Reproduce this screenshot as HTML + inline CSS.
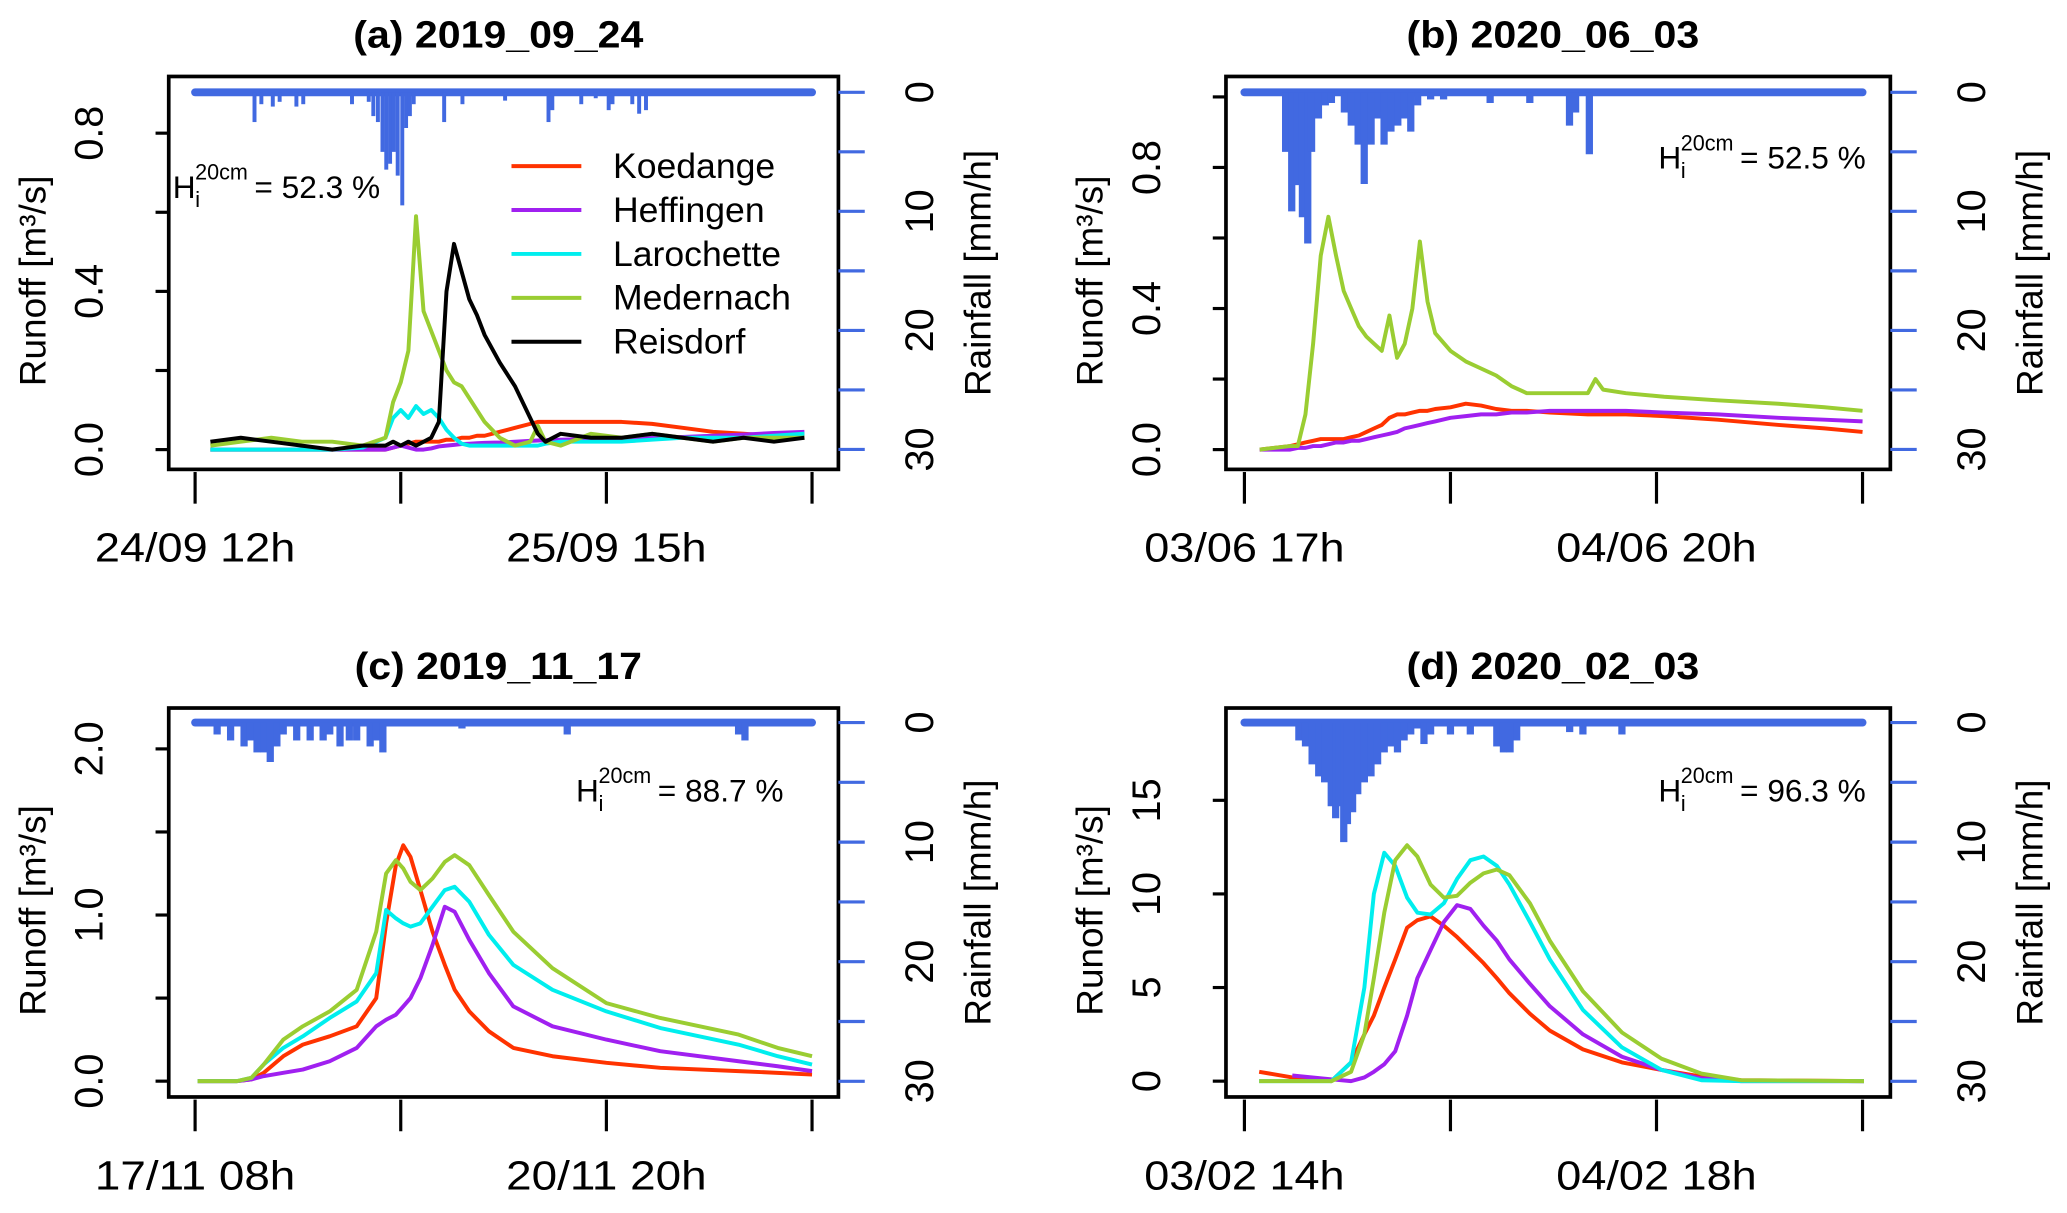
<!DOCTYPE html>
<html><head><meta charset="utf-8"><style>
html,body{margin:0;padding:0;background:#fff;}
svg{display:block;font-family:"Liberation Sans",sans-serif;}
</style></head><body>
<svg id="fig" width="2067" height="1213" viewBox="0 0 1568 920" preserveAspectRatio="none" xmlns="http://www.w3.org/2000/svg"></svg>
<script>
// ---------- DATA ----------
const seriesNames = ["Koedange","Heffingen","Larochette","Medernach","Reisdorf"];
const seriesColors = ["#ff3300","#a020f0","#00eeee","#9acd32","#000000"];

// Panel (a) 2019_09_24 — hours from 24/09 12h
const tA = [2,6,10,14,18,22,25,26,27,28,29,30,31,32,33,34,35,36,37,38,40,42,44,45,46,48,52,56,60,64,68,72,76,80];
const aKoedange = [0,0,0,0,0,0,0,0.005,0.01,0.015,0.02,0.02,0.02,0.02,0.025,0.025,0.03,0.03,0.035,0.035,0.045,0.055,0.065,0.07,0.07,0.07,0.07,0.07,0.065,0.055,0.045,0.04,0.035,0.035];
const aHeffingen = [0,0,0,0,0,0,0,0.005,0.01,0.005,0,0,0.003,0.008,0.01,0.012,0.014,0.015,0.016,0.017,0.018,0.02,0.022,0.023,0.024,0.025,0.027,0.028,0.03,0.032,0.035,0.038,0.042,0.045];
const aLarochette = [0,0,0,0,0,0.005,0.03,0.08,0.1,0.08,0.11,0.09,0.1,0.08,0.05,0.03,0.015,0.01,0.01,0.01,0.01,0.01,0.01,0.01,0.015,0.02,0.02,0.02,0.025,0.03,0.03,0.03,0.035,0.04];
const aMedernach = [0.01,0.02,0.03,0.02,0.02,0.01,0.03,0.12,0.17,0.25,0.59,0.35,0.3,0.25,0.2,0.17,0.16,0.13,0.1,0.07,0.03,0.01,0.02,0.06,0.02,0.01,0.04,0.03,0.04,0.03,0.02,0.03,0.03,0.03];
const aReisdorf = [0.02,0.03,0.02,0.01,0,0.01,0.01,0.02,0.01,0.02,0.01,0.02,0.03,0.07,0.4,0.52,0.45,0.38,0.34,0.29,0.22,0.16,0.08,0.04,0.02,0.04,0.03,0.03,0.04,0.03,0.02,0.03,0.02,0.03];
const aRainT = [7.8,8.7,10.2,11.1,13.3,14.2,20.6,22.8,23.4,24,24.6,25.1,25.6,26.1,26.6,27.2,27.7,28.2,28.7,32.7,35.1,40.7,46.4,46.9,50.7,52.6,54.3,54.8,57.4,58.3,59.2];
const aRainMm = [2.5,1,1.2,0.8,1.2,1,1,0.8,2,2.5,5,6.5,6,5,7,9.5,3,2,1,2.5,1,0.7,2.5,1.5,1,0.5,1.5,1,1,1.8,1.5];
const aTicks = ["24/09 12h","25/09 15h"];

// Panel (b) 2020_06_03 — hours from 03/06 17h
const tB = [2,6,7,8,9,10,11,12,13,14,15,16,17,18,19,20,21,22,23,24,25,27,29,31,33,35,37,40,45,46,47,50,55,62,70,76,81];
const bKoedange = [0,0.01,0.015,0.02,0.025,0.03,0.03,0.03,0.03,0.035,0.04,0.05,0.06,0.07,0.09,0.1,0.1,0.105,0.11,0.11,0.115,0.12,0.13,0.125,0.115,0.11,0.11,0.105,0.1,0.1,0.1,0.1,0.095,0.085,0.07,0.06,0.05];
const bHeffingen = [0,0,0.005,0.005,0.01,0.01,0.015,0.02,0.02,0.025,0.025,0.03,0.035,0.04,0.045,0.05,0.06,0.065,0.07,0.075,0.08,0.09,0.095,0.1,0.1,0.105,0.105,0.11,0.11,0.11,0.11,0.11,0.105,0.1,0.09,0.085,0.08];
const bMedernach = [0,0.01,0.01,0.1,0.3,0.55,0.66,0.55,0.45,0.4,0.35,0.32,0.3,0.28,0.38,0.26,0.3,0.4,0.59,0.42,0.33,0.28,0.25,0.23,0.21,0.18,0.16,0.16,0.16,0.2,0.17,0.16,0.15,0.14,0.13,0.12,0.11];
const bRainT = [5.4,6.2,6.9,7.6,8.3,8.8,9.7,10.6,11.4,13.1,14,14.9,15.7,16.6,17.5,18.3,19.2,20.1,20.9,21.8,22.7,24.4,26.1,32.2,37.4,42.6,43.4,45.2];
const bRainMm = [5,10,7.8,10.5,12.7,5,2.2,1.1,0.9,1.7,2.8,4.4,7.7,4.4,2.2,4.4,3.3,2.8,2.2,3.3,1.1,0.6,0.6,0.9,0.9,2.8,1.7,5.2];
const bTicks = ["03/06 17h","04/06 20h"];

// Panel (c) 2019_11_17 — hours from 17/11 08h
const tC = [1,17,23,28,36,44,55,66,74,78,82,85,88,92,97,102,106,112,120,130,146,168,190,222,238,252];
const cKoedange = [0,0,0.01,0.05,0.15,0.22,0.27,0.33,0.5,0.95,1.3,1.42,1.35,1.15,0.9,0.7,0.55,0.42,0.3,0.2,0.15,0.11,0.08,0.06,0.05,0.04];
const cHeffingen = [0,0,0.01,0.03,0.05,0.07,0.12,0.2,0.33,0.37,0.4,0.45,0.5,0.62,0.82,1.05,1.02,0.85,0.65,0.45,0.33,0.25,0.18,0.12,0.09,0.06];
const cLarochette = [0,0,0.02,0.1,0.2,0.27,0.38,0.48,0.65,1.03,0.98,0.95,0.93,0.95,1.05,1.15,1.17,1.08,0.88,0.7,0.55,0.42,0.32,0.22,0.15,0.1];
const cMedernach = [0,0,0.02,0.1,0.25,0.33,0.42,0.55,0.9,1.25,1.33,1.28,1.2,1.15,1.22,1.32,1.36,1.3,1.12,0.9,0.68,0.47,0.38,0.28,0.2,0.15];
const cRainT = [9,14.5,20,22.6,25.3,28,30.7,33.4,36,41.5,47,52.3,55,59.2,63,66,71.5,74,76.7,109,152,222,224.6];
const cRainMm = [1,1.5,2,1.5,2.5,2.5,3.3,2,1,1.5,1.5,1.5,1,2,1.5,1.5,2,1.5,2.5,0.5,1,1,1.5];
const cTicks = ["17/11 08h","20/11 20h"];

// Panel (d) 2020_02_03 — hours from 03/02 14h
const tD = [2,6.5,11.8,14.5,16.3,17.6,19,20.5,22.1,23.5,25.3,27.1,28.9,30.7,32.5,34.3,36,38.8,41.5,46,51.3,56.7,62.1,67.5,84.2];
const dKoedange = [0.5,0.2,0,1,2.5,3.5,5,6.5,8.2,8.6,8.8,8.3,7.7,7,6.3,5.5,4.7,3.6,2.7,1.7,1,0.6,0.25,0.05,0];
const dHeffingen = [null,0.3,0.1,0,0.2,0.5,0.9,1.6,3.5,5.5,7,8.5,9.4,9.2,8.3,7.5,6.5,5.2,4,2.5,1.3,0.6,0.15,0,0];
const dLarochette = [0,0,0,1,5,10,12.2,11.5,9.8,9,8.9,9.5,10.8,11.8,12,11.5,10.5,8.5,6.5,3.8,1.8,0.6,0.05,0,0];
const dMedernach = [0,0,0,0.5,2.5,5.5,9,11.8,12.6,12,10.5,9.8,9.9,10.6,11.1,11.3,11,9.5,7.5,4.8,2.6,1.2,0.4,0.05,0];
const dRainT = [7.4,8.3,9.2,10.1,10.9,11.8,12.4,12.9,13.5,14,14.7,15.4,16.3,17.2,18.1,19,19.9,20.8,21.7,22.6,23.5,24.4,25.3,28,30.7,34.3,35.2,36.1,37,44.2,46,51.3];
const dRainMm = [1.5,2,3.5,4.5,5,7,8,7,10,8.5,7.5,6,5,4.5,3.5,2.5,2,2.5,1.5,1,0.5,1.8,1,1,1,2,2.5,2.5,1.5,0.8,1,1];
const dTicks = ["03/02 14h","04/02 18h"];

const yTicksA = [0,0.2,0.4,0.6,0.8], yLabA = ["0.0","0.4","0.8"];
const yTicksB = [0,0.2,0.4,0.6,0.8,1.0], yLabB = ["0.0","0.4","0.8"];
const yTicksC = [0,0.5,1,1.5,2], yLabC = ["0.0","1.0","2.0"];
const yTicksD = [0,5,10,15], yLabD = ["0","5","10","15"];
const rainTicks = [0,5,10,15,20,25,30], rainLabels = ["0","10","20","30"];

// ---------- DRAWING ----------
const NS = "http://www.w3.org/2000/svg";
const svg = document.getElementById("fig");
function mk(tag, attrs, parent){ const e=document.createElementNS(NS,tag); for(const k in attrs) e.setAttribute(k,attrs[k]); (parent||svg).appendChild(e); return e; }
function txt(x,y,s,size,opts,parent){ opts=opts||{}; const a={x:x,y:y,"font-size":size,"text-anchor":opts.anchor||"middle",fill:opts.fill||"#000"}; if(opts.weight)a["font-weight"]=opts.weight; if(opts.rot)a.transform="rotate(-90 "+x+" "+y+")"; if(opts.len){a.textLength=opts.len;a.lengthAdjust="spacingAndGlyphs";} if(opts.base)a["dominant-baseline"]=opts.base; const e=mk("text",a,parent); e.textContent=s; return e; }

function panel(cfg){
  const g = mk("g",{});
  
  
  const L=cfg.left, R=cfg.right, T=cfg.top, B=cfg.bottom;
  const x0=cfg.x0, x1=x0+3*cfg.tickStep*cfg.pxh;
  const xs = t => x0 + t*cfg.pxh;
  const ys = v => cfg.y0 - v*cfg.pyu;
  const rs = mm => cfg.r0 + mm*cfg.pmm;
  const ti = txt((L+R)/2-4, cfg.top-22, cfg.title, 29, {weight:"bold", len:cfg.titleLen}, g);
  
  
  const rb = mk("line",{x1:x0,x2:x1,y1:cfg.r0,y2:cfg.r0,stroke:"#4169e1","stroke-width":6,"stroke-linecap":"round"},g);
  
  
  cfg.rainT.forEach((t,i)=>{
    const b = mk("line",{x1:xs(t),x2:xs(t),y1:cfg.r0,y2:rs(cfg.rainMm[i]),stroke:"#4169e1","stroke-width":cfg.barW},g);
    
    
  });
  cfg.series.forEach(s=>{
    let d="", pen=false;
    s.vals.forEach((v,i)=>{ if(v===null){pen=false;return;} d += (pen?"L":"M")+xs(cfg.t[i]).toFixed(1)+","+ys(v).toFixed(1); pen=true; });
    const p = mk("path",{d:d,fill:"none",stroke:seriesColors[s.idx],"stroke-width":3,"stroke-linejoin":"round"},g);
    
    
  });
  const bx = mk("rect",{x:L,y:T,width:R-L,height:B-T,fill:"none",stroke:"#000","stroke-width":2.8},g);
  
  
  cfg.yTicks.forEach(v=>{
    const tk = mk("line",{x1:L-10,x2:L,y1:ys(v),y2:ys(v),stroke:"#000","stroke-width":2.4},g);
    
    
  });
  cfg.yLab.forEach(s=>{
    const lb = txt(L-60, ys(parseFloat(s)), s, 30, {rot:true, base:"central"}, g);
    
    
  });
  const yt = txt(L-103, (T+B)/2+6, "Runoff [m³/s]", 28, {rot:true, base:"central"}, g);
  
  
  rainTicks.forEach(v=>{
    const tk = mk("line",{x1:R,x2:R+20,y1:rs(v),y2:rs(v),stroke:"#4169e1","stroke-width":2.4},g);
    
    
  });
  rainLabels.forEach(s=>{
    const lb = txt(R+62, rs(parseFloat(s)), s, 30, {rot:true, base:"central"}, g);
    
    
  });
  const rt = txt(R+106, (T+B)/2, "Rainfall [mm/h]", 28, {rot:true, base:"central"}, g);
  
  
  for(let k=0;k<4;k++){
    const xx = x0 + k*cfg.tickStep*cfg.pxh;
    const tk = mk("line",{x1:xx,x2:xx,y1:B+2,y2:B+26,stroke:"#000","stroke-width":2.4},g);
    
    
  }
  cfg.xLab.forEach((s,k)=>{
    const lb = txt(x0 + k*2*cfg.tickStep*cfg.pxh, B+70, s, 31, {len:152}, g);
    
    
  });
  const hx=cfg.hx, hy=cfg.hy;
  const h1 = txt(hx, hy, "H", 24, {anchor:"start"}, g);
  
  
  txt(hx+17, hy-14, "20cm", 17, {anchor:"start", len:40}, g);
  txt(hx+17, hy+7, "i", 17, {anchor:"start"}, g);
  const hv = txt(hx+62, hy, "= "+cfg.hval+"  %", 24, {anchor:"start"}, g);
  
  
}

panel({name:"panel-a-2019-09-24", title:"(a) 2019_09_24", titleLen:220, left:128,right:636,top:58,bottom:356, x0:148,
  pxh:156/27, tickStep:27, y0:341, pyu:300, r0:70, pmm:9.03, barW:3,
  t:tA, series:[{idx:0,vals:aKoedange},{idx:1,vals:aHeffingen},{idx:2,vals:aLarochette},{idx:3,vals:aMedernach},{idx:4,vals:aReisdorf}],
  rainT:aRainT, rainMm:aRainMm, yTicks:yTicksA, yLab:yLabA, xLab:aTicks, hx:131, hy:150, hval:"52.3"});
panel({name:"panel-b-2020-06-03", title:"(b) 2020_06_03", titleLen:222, left:930,right:1434,top:58,bottom:356, x0:944,
  pxh:156.3/27, tickStep:27, y0:341, pyu:267.5, r0:70, pmm:9.03, barW:5.5,
  t:tB, series:[{idx:0,vals:bKoedange},{idx:1,vals:bHeffingen},{idx:3,vals:bMedernach}],
  rainT:bRainT, rainMm:bRainMm, yTicks:yTicksB, yLab:yLabB, xLab:bTicks, hx:1258, hy:128, hval:"52.5"});
panel({name:"panel-c-2019-11-17", title:"(c) 2019_11_17", titleLen:218, left:128,right:636,top:537,bottom:832, x0:148,
  pxh:156/84, tickStep:84, y0:820, pyu:126, r0:548, pmm:9.07, barW:5.5,
  t:tC, series:[{idx:0,vals:cKoedange},{idx:1,vals:cHeffingen},{idx:2,vals:cLarochette},{idx:3,vals:cMedernach}],
  rainT:cRainT, rainMm:cRainMm, yTicks:yTicksC, yLab:yLabC, xLab:cTicks, hx:437, hy:608, hval:"88.7"});
panel({name:"panel-d-2020-02-03", title:"(d) 2020_02_03", titleLen:222, left:930,right:1434,top:537,bottom:832, x0:944,
  pxh:156.3/28, tickStep:28, y0:820, pyu:14.2, r0:548, pmm:9.07, barW:5.5,
  t:tD, series:[{idx:0,vals:dKoedange},{idx:1,vals:dHeffingen},{idx:2,vals:dLarochette},{idx:3,vals:dMedernach}],
  rainT:dRainT, rainMm:dRainMm, yTicks:yTicksD, yLab:yLabD, xLab:dTicks, hx:1258, hy:608, hval:"96.3"});

const lg = mk("g",{});


seriesNames.forEach((n,i)=>{
  const y = 126 + i*33.3;
  const ln = mk("line",{x1:388,x2:441,y1:y,y2:y,stroke:seriesColors[i],"stroke-width":3},lg);
  
  
  const t = txt(465, y+9, n, 27, {anchor:"start"}, lg);
  
  
});
</script>
</body></html>
